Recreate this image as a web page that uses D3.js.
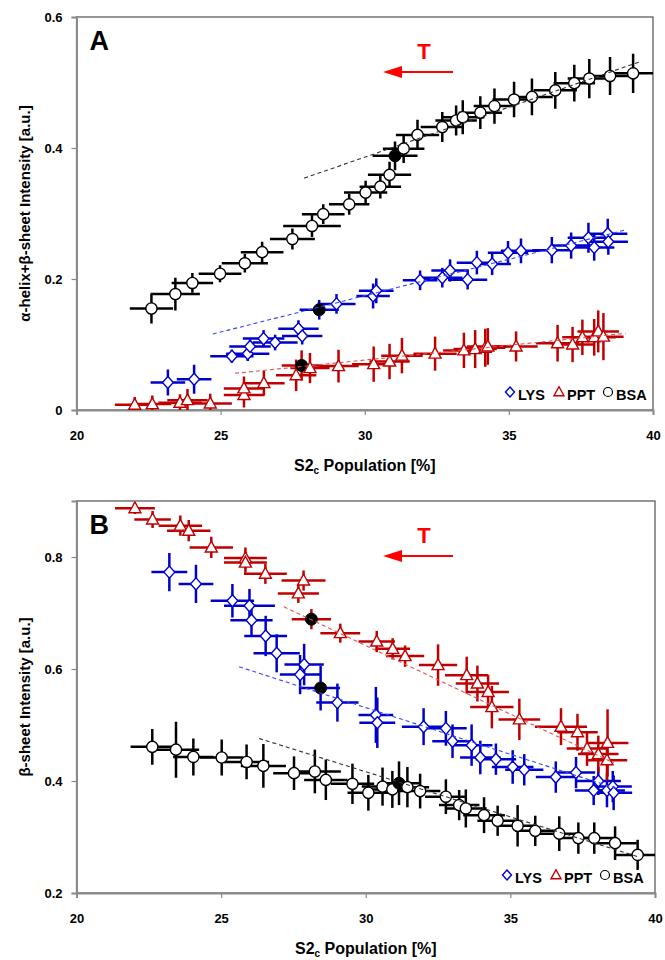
<!DOCTYPE html>
<html><head><meta charset="utf-8">
<script src="https://cdn.jsdelivr.net/npm/d3@7"></script>
<style>body{margin:0;background:#fff}svg{display:block;font-family:"Liberation Sans",Arial,sans-serif;font-weight:bold}</style>
</head><body><svg id="c" width="665" height="960"></svg>
<script>
// ---------- DATA ----------
const xTicks = [20, 25, 30, 35, 40];
const yTicksA = [0, 0.2, 0.4, 0.6];
const yTicksB = [0.2, 0.4, 0.6, 0.8];
const seriesNames = ["LYS", "PPT", "BSA"];

// Panel A : alpha-helix + beta-sheet intensity
const aLysX  = [23.17,24.08,25.39,25.94,26.02,26.49,26.89,27.70,27.83,28.42,29.02,30.29,30.40,31.92,32.69,32.96,33.57,33.89,34.42,34.97,35.42,36.49,37.16,37.76,37.96,38.43,38.45];
const aLysY  = [0.042,0.047,0.082,0.086,0.097,0.109,0.103,0.124,0.113,0.153,0.162,0.174,0.182,0.198,0.202,0.213,0.199,0.225,0.223,0.240,0.243,0.244,0.251,0.263,0.248,0.269,0.257];
const aLysXe = [0.60,0.60,0.75,0.75,0.72,0.72,0.78,0.70,0.70,0.68,0.66,0.58,0.60,0.60,0.70,0.65,0.68,0.70,0.65,0.70,0.70,0.68,0.70,0.72,0.70,0.68,0.68];
const aLysYe = [0.020,0.022,0.010,0.011,0.011,0.013,0.012,0.013,0.013,0.015,0.015,0.019,0.019,0.015,0.015,0.017,0.015,0.018,0.017,0.018,0.019,0.020,0.020,0.023,0.020,0.023,0.020];
const aLysFilled = [9];

const aPptX  = [22.02,22.63,23.59,23.85,24.64,25.81,25.81,26.50,27.62,27.81,28.10,29.09,30.31,30.86,31.29,32.44,33.44,33.83,34.18,34.27,35.25,36.69,37.21,37.55,37.96,38.10,38.28];
const aPptY  = [0.008,0.009,0.011,0.015,0.010,0.023,0.033,0.041,0.053,0.068,0.064,0.067,0.070,0.074,0.083,0.086,0.091,0.093,0.095,0.097,0.097,0.102,0.100,0.111,0.111,0.120,0.112];
const aPptXe = [0.69,0.66,0.75,0.70,0.75,0.70,0.70,0.72,0.70,0.69,0.68,0.70,0.75,0.70,0.72,0.75,0.72,0.75,0.70,0.72,0.75,0.75,0.72,0.70,0.75,0.72,0.70];
const aPptYe = [0.012,0.013,0.013,0.017,0.015,0.019,0.018,0.019,0.024,0.023,0.023,0.025,0.027,0.027,0.027,0.026,0.027,0.029,0.029,0.028,0.023,0.028,0.027,0.027,0.028,0.032,0.036];
const aPptFilled = [9];

const aBsaX  = [22.60,23.43,24.02,24.98,25.84,26.44,27.49,28.17,28.56,29.46,30.03,30.54,30.86,31.05,31.35,31.83,32.69,33.17,33.40,34.01,34.50,35.18,35.80,36.61,37.27,37.79,38.51,39.31];
const aBsaY  = [0.155,0.177,0.194,0.208,0.224,0.241,0.261,0.281,0.299,0.314,0.332,0.341,0.359,0.388,0.399,0.420,0.432,0.442,0.447,0.454,0.464,0.474,0.478,0.488,0.499,0.506,0.510,0.514];
const aBsaXe = [0.75,0.85,0.72,0.74,0.80,0.74,0.78,1.00,0.74,0.70,0.75,0.72,0.75,0.78,0.72,0.75,0.75,0.72,0.75,0.75,0.72,0.75,0.72,0.75,0.72,0.75,0.75,0.75];
const aBsaYe = [0.023,0.025,0.015,0.013,0.014,0.016,0.016,0.017,0.015,0.016,0.018,0.018,0.020,0.022,0.022,0.023,0.023,0.023,0.026,0.025,0.027,0.027,0.028,0.028,0.028,0.030,0.029,0.030];
const aBsaFilled = [13];

// Panel B : beta-sheet intensity
const bLysX  = [23.21,24.13,25.39,25.98,26.05,26.54,26.92,27.87,27.73,28.44,29.02,30.35,30.40,32.00,32.77,33.00,33.66,33.96,34.50,35.08,35.48,36.57,37.27,38.04,37.88,38.34,38.54,38.57];
const bLysY  = [0.773,0.752,0.722,0.713,0.687,0.659,0.628,0.608,0.590,0.566,0.540,0.518,0.504,0.497,0.494,0.471,0.464,0.442,0.439,0.425,0.420,0.407,0.415,0.400,0.383,0.383,0.390,0.379];
const bLysXe = [0.62,0.60,0.75,0.88,0.73,0.74,0.80,0.68,0.70,0.67,0.73,0.60,0.62,0.75,0.72,0.70,0.72,0.70,0.70,0.72,0.66,0.69,0.66,0.78,0.65,0.62,0.66,0.64];
const bLysYe = [0.034,0.034,0.030,0.030,0.027,0.036,0.034,0.037,0.035,0.040,0.034,0.050,0.045,0.033,0.031,0.030,0.037,0.030,0.028,0.030,0.028,0.028,0.028,0.025,0.026,0.030,0.028,0.031];
const bLysFilled = [9];

const bPptX  = [22.02,22.63,23.59,23.88,24.66,25.84,25.84,26.53,27.85,27.67,28.12,29.12,30.38,30.93,31.36,32.50,33.49,33.86,34.23,34.36,35.31,36.75,37.32,37.65,38.04,38.36,38.34];
const bPptY  = [0.887,0.867,0.856,0.847,0.817,0.798,0.790,0.770,0.758,0.735,0.689,0.664,0.649,0.636,0.623,0.607,0.589,0.574,0.559,0.532,0.510,0.497,0.487,0.458,0.448,0.468,0.437];
const bPptXe = [0.69,0.63,0.75,0.75,0.75,0.74,0.74,0.74,0.76,0.71,0.68,0.69,0.63,0.60,0.66,0.66,0.75,0.75,0.72,0.75,0.72,0.90,0.70,0.70,0.70,0.72,0.70];
const bPptYe = [0.010,0.015,0.018,0.019,0.019,0.019,0.018,0.018,0.018,0.017,0.018,0.017,0.019,0.019,0.019,0.037,0.033,0.032,0.030,0.038,0.037,0.033,0.033,0.031,0.033,0.060,0.036];
const bPptFilled = [10];

const bBsaX  = [22.62,23.44,24.04,25.02,25.88,26.46,27.52,28.24,28.62,29.54,30.09,30.58,30.92,31.15,31.44,31.88,32.77,33.23,33.46,34.09,34.56,35.25,35.86,36.69,37.35,37.90,38.62,39.40];
const bBsaY  = [0.461,0.456,0.443,0.442,0.434,0.427,0.414,0.417,0.402,0.395,0.379,0.390,0.385,0.396,0.389,0.382,0.372,0.357,0.351,0.339,0.329,0.320,0.311,0.306,0.298,0.298,0.289,0.268];
const bBsaXe = [0.75,0.80,0.70,0.75,0.78,0.78,0.72,0.90,0.75,0.75,0.72,0.72,0.70,0.72,0.75,0.70,0.72,0.70,0.72,0.72,0.70,0.66,0.70,0.72,0.70,0.72,0.75,0.75];
const bBsaYe = [0.032,0.050,0.033,0.032,0.031,0.039,0.030,0.039,0.036,0.036,0.032,0.034,0.033,0.039,0.036,0.031,0.031,0.027,0.034,0.032,0.027,0.037,0.027,0.031,0.028,0.028,0.030,0.027];
const bBsaFilled = [13];

// linear trend lines [x0, y0, x1, y1]
const aLysTrend = [24.73, 0.116, 39.05, 0.275];
const aPptTrend = [25.50, 0.056, 39.05, 0.117];
const aBsaTrend = [27.90, 0.354, 39.57, 0.532];
const bLysTrend = [25.62, 0.604, 38.82, 0.384];
const bPptTrend = [27.17, 0.711, 38.58, 0.432];
const bBsaTrend = [26.31, 0.476, 39.40, 0.265];

// ---------- STYLE ----------
const col = {LYS: "#0000cc", PPT: "#c00000", BSA: "#000000"};
const trendCol = {LYS: "#3344ff", PPT: "#e05050", BSA: "#333333"};
const svg = d3.select("#c");

function markerPath(kind, s) {
  if (kind === "LYS") return `M0,${-s}L${s*0.9},0L0,${s}L${-s*0.9},0Z`;
  if (kind === "PPT") return `M0,${-s*1.05}L${s},${s*0.75}L${-s},${s*0.75}Z`;
  return null;
}

function drawMarker(g, kind, x, y, s, filled) {
  if (filled) {
    g.append("circle").attr("cx", x).attr("cy", y).attr("r", 6).attr("fill", "#000").attr("stroke", "#000");
    return;
  }
  if (kind === "BSA") {
    g.append("circle").attr("cx", x).attr("cy", y).attr("r", s).attr("fill", "#fff").attr("stroke", "#000").attr("stroke-width", 1.4);
  } else {
    g.append("path").attr("d", markerPath(kind, s)).attr("transform", `translate(${x},${y})`)
      .attr("fill", "#fff").attr("stroke", col[kind]).attr("stroke-width", 1.4);
  }
}

function panel(cfg) {
  const x = d3.scaleLinear().domain([20, 40]).range([cfg.left, cfg.right]);
  const y = d3.scaleLinear().domain(cfg.ydom).range([cfg.bottom, cfg.top]);
  const g = svg.append("g");
  const clipId = "clip" + cfg.label;
  svg.append("clipPath").attr("id", clipId).append("rect")
    .attr("x", cfg.left).attr("y", cfg.top).attr("width", cfg.right - cfg.left).attr("height", cfg.bottom - cfg.top);

  // frame
  g.append("rect").attr("x", cfg.left).attr("y", cfg.top).attr("width", cfg.right - cfg.left).attr("height", cfg.bottom - cfg.top)
    .attr("fill", "none").attr("stroke", "#505050").attr("stroke-width", 1.2);

  // axes
  const ax = g.append("g").attr("transform", `translate(0,${cfg.bottom})`)
    .call(d3.axisBottom(x).tickValues(xTicks).tickSize(5).tickPadding(16).tickFormat(d3.format("d")));
  const ay = g.append("g").attr("transform", `translate(${cfg.left},0)`)
    .call(d3.axisLeft(y).tickValues(cfg.yticks).tickSize(5).tickPadding(9).tickFormat(d => d === 0 ? "0" : d3.format(".1f")(d)));
  [ax, ay].forEach(a => {
    a.select(".domain").attr("stroke", "#8a8a8a").attr("stroke-width", 2);
    a.selectAll(".tick line").attr("stroke", "#8a8a8a").attr("stroke-width", 1.2);
    a.selectAll(".tick text").attr("font-size", 13).attr("font-weight", "bold")
      .attr("font-family", '"Liberation Sans",Arial,sans-serif').attr("fill", "#000");
  });

  // data
  const dg = g.append("g").attr("clip-path", `url(#${clipId})`);
  cfg.series.forEach(s => {
    const c = col[s.name];
    const eg = dg.append("g").attr("stroke", c).attr("stroke-width", 2.5);
    s.x.forEach((xv, i) => {
      const px = x(xv), py = y(s.y[i]);
      eg.append("line").attr("x1", x(xv - s.xe[i])).attr("x2", x(xv + s.xe[i])).attr("y1", py).attr("y2", py);
      eg.append("line").attr("x1", px).attr("x2", px).attr("y1", y(s.y[i] - s.ye[i])).attr("y2", y(s.y[i] + s.ye[i]));
    });
    const mg = dg.append("g");
    s.x.forEach((xv, i) => drawMarker(mg, s.name, x(xv), y(s.y[i]), s.name === "BSA" ? 5.6 : 6, s.filled.includes(i)));
  });
  cfg.series.forEach(s => {
    const t = s.trend;
    dg.append("line").attr("x1", x(t[0])).attr("y1", y(t[1])).attr("x2", x(t[2])).attr("y2", y(t[3]))
      .attr("stroke", trendCol[s.name]).attr("stroke-width", 1.1).attr("stroke-dasharray", "4,3");
  });

  // panel label
  g.append("text").attr("x", cfg.left + 13).attr("y", cfg.top + 33).attr("font-size", 27).attr("font-weight", "bold").text(cfg.label);

  // temperature arrow
  const ty = cfg.top + 55;
  g.append("text").attr("x", 424).attr("y", cfg.top + 42).attr("text-anchor", "middle").attr("font-size", 22)
    .attr("font-weight", "bold").attr("fill", "#ff0000").text("T");
  g.append("line").attr("x1", 453).attr("x2", 398).attr("y1", ty).attr("y2", ty).attr("stroke", "#ff0000").attr("stroke-width", 2);
  g.append("path").attr("d", `M383,${ty}L402,${ty - 6}L402,${ty + 6}Z`).attr("fill", "#ff0000");

  // legend
  const ly = cfg.bottom - 16;
  const lx = [cfg.legendX, cfg.legendX + 49, cfg.legendX + 98];
  seriesNames.forEach((n, i) => {
    if (n === "BSA") g.append("circle").attr("cx", lx[i]).attr("cy", ly - 2).attr("r", 4.5).attr("fill", "#fff").attr("stroke", "#000").attr("stroke-width", 1.2);
    else g.append("path").attr("d", markerPath(n, 5)).attr("transform", `translate(${lx[i]},${ly - 2})`)
      .attr("fill", "#fff").attr("stroke", col[n]).attr("stroke-width", 1.4);
    g.append("text").attr("x", lx[i] + 8).attr("y", ly + 6).attr("font-size", 14.5).attr("font-weight", "bold").text(n);
  });

  // axis titles
  const xt = g.append("text").attr("x", (cfg.left + cfg.right) / 2).attr("y", cfg.bottom + 61)
    .attr("text-anchor", "middle").attr("font-size", 16).attr("font-weight", "bold");
  xt.append("tspan").text("S2");
  xt.append("tspan").attr("font-size", 10).attr("dy", 3).text("c");
  xt.append("tspan").attr("dy", -3).text(" Population [%]");
  g.append("text").attr("transform", `translate(30,${(cfg.top + cfg.bottom) / 2}) rotate(-90)`)
    .attr("text-anchor", "middle").attr("font-size", 15).attr("font-weight", "bold").text(cfg.ytitle);
}

panel({
  label: "A", left: 76.5, right: 653, top: 17, bottom: 410, ydom: [0, 0.6], yticks: yTicksA,
  ytitle: "α-helix+β-sheet Intensity [a.u.]", legendX: 510,
  series: [
    {name: "LYS", x: aLysX, y: aLysY, xe: aLysXe, ye: aLysYe, filled: aLysFilled, trend: aLysTrend},
    {name: "PPT", x: aPptX, y: aPptY, xe: aPptXe, ye: aPptYe, filled: aPptFilled, trend: aPptTrend},
    {name: "BSA", x: aBsaX, y: aBsaY, xe: aBsaXe, ye: aBsaYe, filled: aBsaFilled, trend: aBsaTrend}
  ]
});
panel({
  label: "B", left: 76.5, right: 655, top: 501, bottom: 893, ydom: [0.2, 0.9], yticks: yTicksB,
  ytitle: "β-sheet Intensity [a.u.]", legendX: 507,
  series: [
    {name: "LYS", x: bLysX, y: bLysY, xe: bLysXe, ye: bLysYe, filled: bLysFilled, trend: bLysTrend},
    {name: "PPT", x: bPptX, y: bPptY, xe: bPptXe, ye: bPptYe, filled: bPptFilled, trend: bPptTrend},
    {name: "BSA", x: bBsaX, y: bBsaY, xe: bBsaXe, ye: bBsaYe, filled: bBsaFilled, trend: bBsaTrend}
  ]
});
</script></body></html>
